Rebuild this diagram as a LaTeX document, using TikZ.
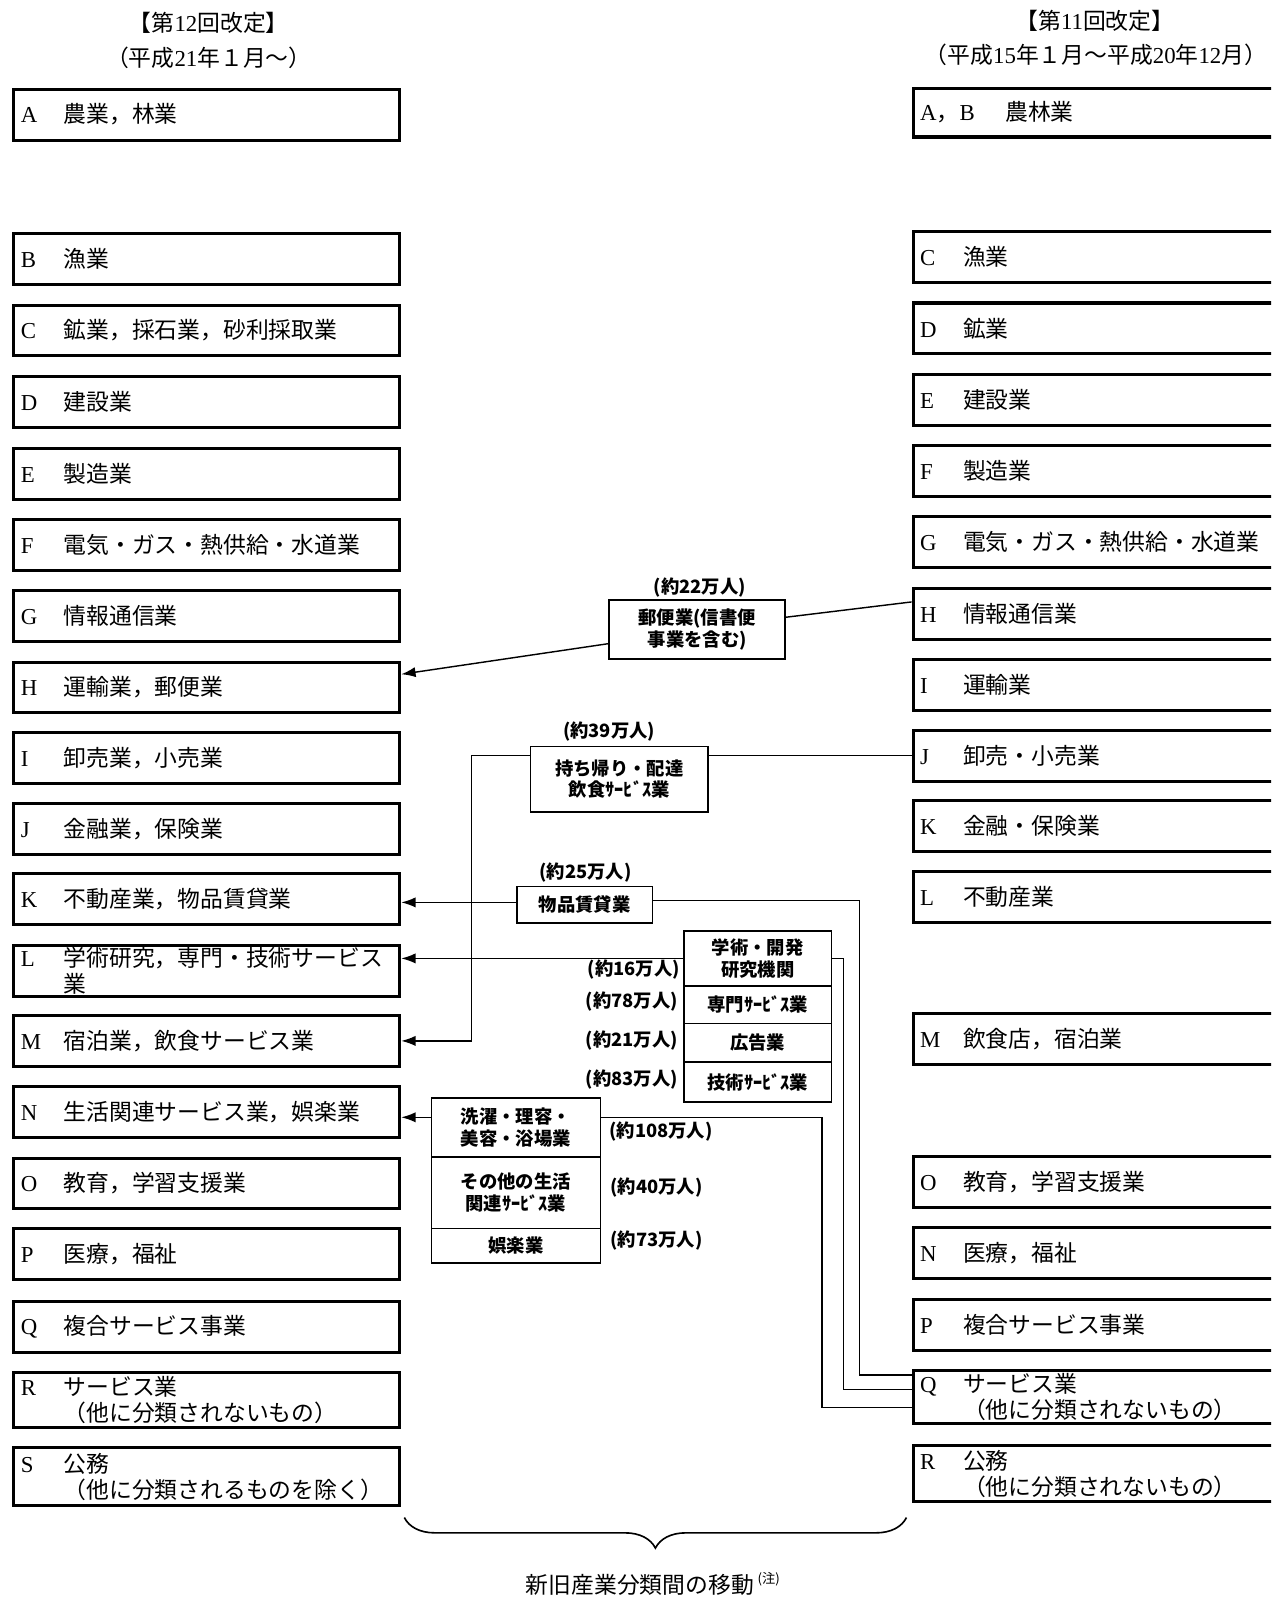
\documentclass[tikz,border=0pt]{standalone}
\usepackage{fontspec}
\setmainfont{Liberation Serif}
\newfontfamily\jp{Noto Sans CJK JP}
\usetikzlibrary{arrows.meta,decorations.pathreplacing}
\newcommand\rowt[2]{\makebox[21pt][l]{#1}{\jp #2}}
\begin{document}
\begin{tikzpicture}[x=0.5pt,y=-0.5pt,
  bigbox/.style={draw,line width=1.5pt,rectangle,minimum height=25pt,inner xsep=3.5pt,inner ysep=0pt,
    text width=182.5pt,align=left,font=\fontsize{11.2}{12.5}\selectfont},
  mbox/.style={draw,line width=0.8pt,rectangle,inner sep=0pt,align=center,font=\fontsize{9}{10.5}\jp\bfseries},
  lab/.style={inner sep=0pt,font=\fontsize{9}{10.5}\jp\bfseries},
  head/.style={inner sep=0pt,font=\fontsize{11.2}{12.5}\selectfont},
  conn/.style={line width=0.7pt},
  thinconn/.style={line width=0.6pt},
  arr/.style={line width=0.7pt,-{Latex[length=7pt,width=5pt]}}]
\useasboundingbox (0,0) rectangle (1248,1568);
\clip (0,0) rectangle (1248,1568);

% headers
\node[head] (h12a) at (205,22) {{\jp 【第}12{\jp 回改定】}};
\node[head] (h12b) at (205,57) {{\jp （平成}21{\jp 年１月～）}};
\node[head] (h11a) at (1075,20) {{\jp 【第}11{\jp 回改定】}};
\node[head] (h11b) at (1076,54) {{\jp （平成}15{\jp 年１月～平成}20{\jp 年}12{\jp 月）}};

% left column (12th revision)
\node[bigbox] (lA) at (203,112.5) {\rowt{A}{農業，林業}};
\node[bigbox] (lB) at (203,254.5) {\rowt{B}{漁業}};
\node[bigbox] (lC) at (203,324.5) {\rowt{C}{鉱業，採石業，砂利採取業}};
\node[bigbox] (lD) at (203,395) {\rowt{D}{建設業}};
\node[bigbox] (lE) at (203,465) {\rowt{E}{製造業}};
\node[bigbox] (lF) at (203,535) {\rowt{F}{電気・ガス・熱供給・水道業}};
\node[bigbox] (lG) at (203,605) {\rowt{G}{情報通信業}};
\node[bigbox] (lH) at (203,675) {\rowt{H}{運輸業，郵便業}};
\node[bigbox] (lI) at (203,744) {\rowt{I}{卸売業，小売業}};
\node[bigbox] (lJ) at (203,814) {\rowt{J}{金融業，保険業}};
\node[bigbox] (lK) at (203,883) {\rowt{K}{不動産業，物品賃貸業}};
\node[bigbox] (lL) at (203,953) {\rowt{L}{学術研究，専門・技術サービス}\\\hspace*{21pt}{\jp 業}};
\node[bigbox] (lM) at (203,1022) {\rowt{M}{宿泊業，飲食サービス業}};
\node[bigbox] (lN) at (203,1092) {\rowt{N}{生活関連サービス業，娯楽業}};
\node[bigbox] (lO) at (203,1162) {\rowt{O}{教育，学習支援業}};
\node[bigbox] (lP) at (203,1231.5) {\rowt{P}{医療，福祉}};
\node[bigbox] (lQ) at (203,1302.5) {\rowt{Q}{複合サービス事業}};
\node[bigbox,minimum height=27pt] (lR) at (203,1374.5) {\rowt{R}{サービス業}\\\hspace*{21pt}{\jp （他に分類されないもの）}};
\node[bigbox,minimum height=28.5pt] (lS) at (203,1450) {\rowt{S}{公務}\\\hspace*{21pt}{\jp （他に分類されるものを除く）}};

% right column (11th revision)
\node[bigbox,minimum height=24pt] (rAB) at (1086,110.5) {A{\jp ，}B\hspace{15pt}{\jp 農林業}};
\node[bigbox] (rC) at (1086,252.5) {\rowt{C}{漁業}};
\node[bigbox] (rD) at (1086,322.5) {\rowt{D}{鉱業}};
\node[bigbox] (rE) at (1086,392.5) {\rowt{E}{建設業}};
\node[bigbox] (rF) at (1086,462.5) {\rowt{F}{製造業}};
\node[bigbox] (rG) at (1086,532.5) {\rowt{G}{電気・ガス・熱供給・水道業}};
\node[bigbox] (rH) at (1086,602.5) {\rowt{H}{情報通信業}};
\node[bigbox] (rI) at (1086,672.5) {\rowt{I}{運輸業}};
\node[bigbox] (rJ) at (1086,742) {\rowt{J}{卸売・小売業}};
\node[bigbox] (rK) at (1086,811) {\rowt{K}{金融・保険業}};
\node[bigbox] (rL) at (1086,881) {\rowt{L}{不動産業}};
\node[bigbox] (rM) at (1086,1020.5) {\rowt{M}{飲食店，宿泊業}};
\node[bigbox] (rO) at (1086,1160.5) {\rowt{O}{教育，学習支援業}};
\node[bigbox] (rN) at (1086,1230.5) {\rowt{N}{医療，福祉}};
\node[bigbox] (rP) at (1086,1300.5) {\rowt{P}{複合サービス事業}};
\node[bigbox,minimum height=26pt] (rQ) at (1086,1371.5) {\rowt{Q}{サービス業}\\\hspace*{21pt}{\jp （他に分類されないもの）}};
\node[bigbox,minimum height=27.5pt] (rR) at (1086,1447) {\rowt{R}{公務}\\\hspace*{21pt}{\jp （他に分類されないもの）}};

% middle boxes
\node[mbox,minimum width=86.5pt,minimum height=29pt] (post) at (684.5,618) {郵便業(信書便\\事業を含む)};
\node[lab] (c22) at (687,577) {(約22万人)};
\node[mbox,minimum width=87pt,minimum height=32pt] (take) at (608,765) {持ち帰り・配達\\飲食ｻｰﾋﾞｽ業};
\node[lab] (c39) at (598,718) {(約39万人)};
\node[mbox,minimum width=66.5pt,minimum height=18pt] (rent) at (574,888.5) {物品賃貸業};
\node[lab] (c25) at (575,857) {(約25万人)};

\node[mbox,minimum width=72.5pt,minimum height=27pt] (acad1) at (744,941) {学術・開発\\研究機関};
\node[mbox,minimum width=72.5pt,minimum height=18.5pt] (acad2) at (744,986.5) {専門ｻｰﾋﾞｽ業};
\node[mbox,minimum width=72.5pt,minimum height=19pt] (acad3) at (744,1024) {広告業};
\node[mbox,minimum width=72.5pt,minimum height=19.5pt] (acad4) at (744,1062.5) {技術ｻｰﾋﾞｽ業};
\node[lab,anchor=east] (c16) at (668,952) {(約16万人)};
\node[lab,anchor=east] (c78) at (666,983) {(約78万人)};
\node[lab,anchor=east] (c21) at (666,1022) {(約21万人)};
\node[lab,anchor=east] (c83) at (666,1060) {(約83万人)};

\node[mbox,minimum width=83pt,minimum height=29pt] (life1) at (506.5,1107) {洗濯・理容・\\美容・浴場業};
\node[mbox,minimum width=83pt,minimum height=35pt] (life2) at (506.5,1171) {その他の生活\\関連ｻｰﾋﾞｽ業};
\node[mbox,minimum width=83pt,minimum height=17pt] (life3) at (506.5,1223) {娯楽業};
\node[lab,anchor=west] (c108) at (598,1111) {(約108万人)};
\node[lab,anchor=west] (c40) at (599,1166) {(約40万人)};
\node[lab,anchor=west] (c73) at (599,1218) {(約73万人)};

% helper coordinates
\coordinate (qA) at ([yshift=10.75pt]rQ.west);
\coordinate (qB) at ([yshift=3.75pt]rQ.west);
\coordinate (qC) at ([yshift=-5.25pt]rQ.west);
\coordinate (busA) at (843.5,0);
\coordinate (busB) at (828,0);
\coordinate (busC) at (807,0);
\coordinate (takeW) at ([yshift=11.5pt]take.west);
\coordinate (takeE) at ([yshift=11.5pt]take.east);
\coordinate (rentW) at ([yshift=1.25pt]rent.west);
\coordinate (rentE) at ([yshift=2.25pt]rent.east);
\coordinate (lifeW) at ([yshift=5pt]life1.west);
\coordinate (lifeE) at ([yshift=5pt]life1.east);
\coordinate (takeBend) at (463,0);

% connectors
\draw[conn] ([yshift=5.75pt]rH.west) -- ([yshift=6pt]post.east);
\draw[arr] ([yshift=-7pt]post.west) -- ([yshift=6.5pt]lH.east);
\draw[conn] (rJ.west) -- (takeE);
\draw[arr] (takeW) -- (takeW -| takeBend) |- (lM.east);
\draw[arr] (rentW) -- (rentW -| lK.east);
\draw[thinconn] (rentE) -| (busA |- qA) -- (qA);
\draw[arr] (acad1.west) -- (acad1.west -| lL.east);
\draw[thinconn] (acad1.east) -| (busB |- qB) -- (qB);
\draw[arr] (lifeW) -- (lifeW -| lN.east);
\draw[thinconn] (lifeE) -| (busC |- qC) -- (qC);

% brace and footnote
\coordinate (braceL) at (397,1490);
\coordinate (braceR) at (890,1490);
\draw[line width=0.8pt,decorate,decoration={brace,mirror,amplitude=15pt}] (braceL) -- (braceR);
\node[head,anchor=base] (foot) at (641,1565) {{\jp 新旧産業分類間の移動}\,\raisebox{5pt}{\fontsize{6.5}{7}\jp (注)}};
\end{tikzpicture}
\end{document}
